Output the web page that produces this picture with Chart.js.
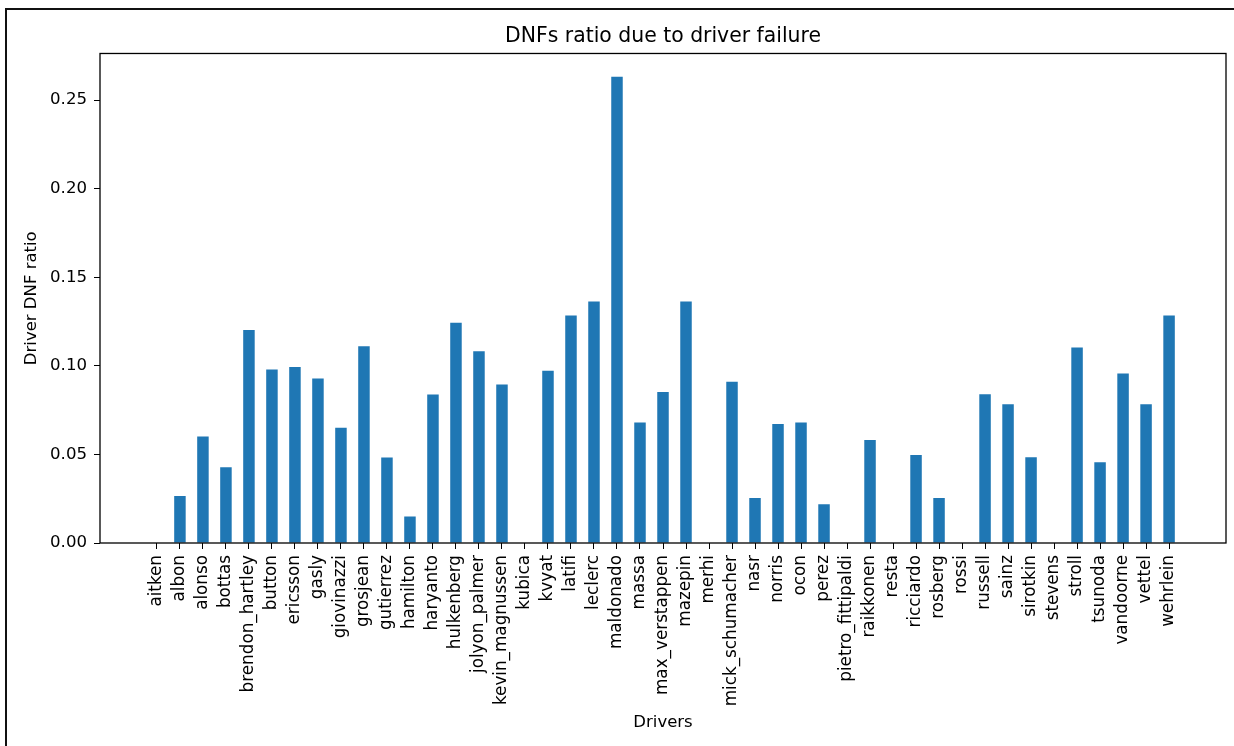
<!DOCTYPE html>
<html><head><meta charset="utf-8">
<script src="https://cdn.jsdelivr.net/npm/chart.js@4.4.0/dist/chart.umd.min.js"></script>
<style>
html,body{margin:0;padding:0;background:#fff;}
#wrap{position:relative;width:1234px;height:746px;overflow:hidden;background:#fff;}
#frame{position:absolute;left:5px;top:8px;width:1300px;height:800px;border-left:2.5px solid #111;border-top:2.5px solid #111;pointer-events:none;}
canvas{position:absolute;left:0;top:0;}
</style></head><body>
<div id="wrap"><canvas id="c" width="1234" height="746" style="width:1234px;height:746px"></canvas><div id="frame"></div></div>
<script>
const drivers = ["aitken","albon","alonso","bottas","brendon_hartley","button","ericsson","gasly","giovinazzi","grosjean","gutierrez","hamilton","haryanto","hulkenberg","jolyon_palmer","kevin_magnussen","kubica","kvyat","latifi","leclerc","maldonado","massa","max_verstappen","mazepin","merhi","mick_schumacher","nasr","norris","ocon","perez","pietro_fittipaldi","raikkonen","resta","ricciardo","rosberg","rossi","russell","sainz","sirotkin","stevens","stroll","tsunoda","vandoorne","vettel","wehrlein"];
const dnfRatio = [0,0.0266,0.0601,0.0428,0.1203,0.0980,0.0993,0.0929,0.0650,0.1111,0.0482,0.0149,0.0838,0.1243,0.1083,0.0895,0,0.0972,0.1285,0.1364,0.2632,0.0680,0.0853,0.1364,0,0.0910,0.0254,0.0672,0.0680,0.0219,0,0.0582,0,0.0497,0.0254,0,0.0840,0.0784,0.0484,0,0.1104,0.0456,0.0957,0.0784,0.1285];
const yTicks = [0,0.05,0.10,0.15,0.20,0.25];
const titleText = "DNFs ratio due to driver failure";
const xTitle = "Drivers";
const yTitle = "Driver DNF ratio";

const FONT = "'DejaVu Sans', sans-serif";
const framePlugin = {
  id: 'frame',
  afterLayout(chart){
    const t = chart.titleBlock, a = chart.chartArea;
    if (t) { t.left = a.left; t.right = a.right; t.width = a.right - a.left; }
  },
  afterDatasetsDraw(chart){
    const a = chart.chartArea, ctx = chart.ctx;
    ctx.save();
    ctx.strokeStyle = '#000';
    ctx.lineWidth = 1.3;
    ctx.strokeRect(a.left, a.top, a.right - a.left, a.bottom - a.top);
    ctx.restore();
  }
};

new Chart(document.getElementById('c'), {
  type: 'bar',
  data: {
    datasets: [{
      data: dnfRatio.map((v, i) => ({x: i, y: v})),
      backgroundColor: '#1f77b4',
      borderWidth: 0,
      barPercentage: 1,
      categoryPercentage: 0.5
    }]
  },
  options: {
    responsive: false,
    animation: false,
    layout: {padding: {left: 0, right: 8, top: 0, bottom: 0}},
    plugins: {
      legend: {display: false},
      tooltip: {enabled: false},
      title: {
        display: true, text: titleText, color: '#000',
        font: {family: FONT, size: 20.4, weight: 'normal'},
        padding: {top: 24, bottom: 5}
      }
    },
    scales: {
      x: {
        type: 'linear',
        min: -2.475, max: drivers.length - 1 + 2.475,
        offset: false,
        border: {display: false},
        grid: {display: true, offset: false, drawOnChartArea: false, drawTicks: true, tickLength: 6, color: '#000', lineWidth: 1},
        afterBuildTicks: (axis) => { axis.ticks = drivers.map((_, i) => ({value: i})); },
        afterFit: (axis) => { axis.height = 203; },
        ticks: {
          autoSkip: false, minRotation: 90, maxRotation: 90, padding: 6, color: '#000',
          font: {family: FONT, size: 16.8},
          callback: (v) => drivers[v]
        },
        title: {display: true, text: xTitle, color: '#000', font: {family: FONT, size: 16.5}, padding: {top: 4, bottom: 13}}
      },
      y: {
        min: 0, max: Math.max(...dnfRatio) * 1.05,
        border: {display: false},
        grid: {display: true, offset: false, drawOnChartArea: false, drawTicks: true, tickLength: 6, color: '#000', lineWidth: 1},
        afterBuildTicks: (axis) => { axis.ticks = yTicks.map(v => ({value: v})); },
        afterFit: (axis) => { axis.width = 100; },
        ticks: {
          padding: 7, color: '#000',
          font: {family: FONT, size: 16.6},
          callback: (v) => Number(v).toFixed(2)
        },
        title: {display: true, text: yTitle, color: '#000', font: {family: FONT, size: 16.5}, padding: {top: 22, bottom: 0}}
      }
    }
  },
  plugins: [framePlugin]
});
</script>
</body></html>
